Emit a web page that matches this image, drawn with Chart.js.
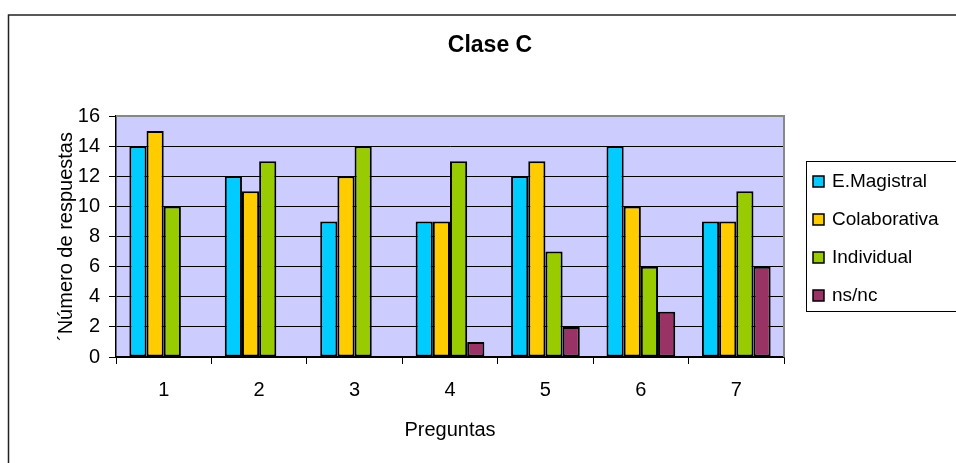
<!DOCTYPE html>
<html lang="es">
<head>
<meta charset="UTF-8">
<title>Clase C</title>
<script src="https://cdn.jsdelivr.net/npm/chart.js@4.4.1/dist/chart.umd.min.js"></script>
<style>
  html, body { margin: 0; padding: 0; background: #fff; }
  #chart { display: block; }
</style>
</head>
<body>
<canvas id="chart" width="956" height="463"></canvas>
<script>
// data
var titulo = 'Clase C';
var preguntas = ['1', '2', '3', '4', '5', '6', '7'];
var series = ['E.Magistral', 'Colaborativa', 'Individual', 'ns/nc'];
var magistral = [14, 12, 9, 9, 12, 14, 9];
var colaborativa = [15, 11, 12, 9, 13, 10, 9];
var individual = [10, 13, 14, 13, 7, 6, 11];
var nsnc = [0, 0, 0, 1, 2, 3, 6];
var colores = ['#00CCFF', '#FFCC00', '#99CC00', '#993366'];

var fuente = "'Liberation Sans', Arial, sans-serif";

// frame, title, plot border and legend box
var marcos = {
  id: 'marcos',
  beforeDraw: function (chart) {
    var ctx = chart.ctx;
    var a = chart.chartArea;
    ctx.save();
    ctx.fillStyle = '#CCCCFF';
    ctx.fillRect(a.left, a.top, a.right - a.left, a.bottom - a.top);
    ctx.strokeStyle = '#222';
    ctx.lineWidth = 1.5;
    ctx.strokeRect(8.5, 15, 1200, 1200);
    ctx.restore();
  },
  afterDraw: function (chart) {
    var ctx = chart.ctx;
    var a = chart.chartArea;
    ctx.save();
    ctx.strokeStyle = '#888';
    ctx.lineWidth = 2;
    ctx.beginPath();
    ctx.moveTo(a.left, a.top);
    ctx.lineTo(a.right, a.top);
    ctx.lineTo(a.right, a.bottom);
    ctx.stroke();

    // title
    ctx.fillStyle = '#000';
    ctx.font = 'bold 23px ' + fuente;
    ctx.textAlign = 'center';
    ctx.textBaseline = 'middle';
    ctx.fillText(titulo, 490, 46);

    // legend
    ctx.textAlign = 'left';
    ctx.strokeStyle = '#000';
    ctx.lineWidth = 1;
    ctx.strokeRect(806.5, 161.5, 200, 150);
    ctx.font = '19px ' + fuente;
    chart.data.datasets.forEach(function (ds, i) {
      var y = 181 + i * 38;
      ctx.fillStyle = ds.backgroundColor;
      ctx.fillRect(813, y - 5, 11, 11);
      ctx.strokeStyle = '#000';
      ctx.lineWidth = 1.5;
      ctx.strokeRect(813, y - 5, 11, 11);
      ctx.fillStyle = '#000';
      ctx.fillText(ds.label, 832, y + 1);
    });
    ctx.restore();
  }
};

function serie(i, valores) {
  return {
    label: series[i],
    data: valores,
    backgroundColor: colores[i],
    borderColor: '#000',
    borderWidth: function (c) { return c.raw === 0 ? 0 : 2; },
    borderSkipped: false,
    categoryPercentage: 0.72,
    barPercentage: 1.0
  };
}

var ctx = document.getElementById('chart').getContext('2d');
new Chart(ctx, {
  type: 'bar',
  data: {
    labels: preguntas,
    datasets: [
      serie(0, magistral),
      serie(1, colaborativa),
      serie(2, individual),
      serie(3, nsnc)
    ]
  },
  options: {
    responsive: false,
    animation: false,
    layout: { padding: { left: 9, right: 172, top: 116, bottom: 0 } },
    plugins: {
      legend: { display: false },
      tooltip: { enabled: false },
      title: { display: false }
    },
    scales: {
      x: {
        afterFit: function (s) { s.height = 106; },
        grid: {
          display: true,
          drawOnChartArea: false,
          drawTicks: true,
          tickLength: 7,
          color: '#000',
          offset: true
        },
        border: { display: true, color: '#000', width: 1.5 },
        ticks: { color: '#000', font: { family: fuente, size: 20 }, padding: 14 },
        title: {
          display: true,
          text: 'Preguntas',
          color: '#000',
          font: { family: fuente, size: 20 },
          padding: { top: 0, bottom: 21 }
        }
      },
      y: {
        min: 0,
        max: 16,
        afterFit: function (s) { s.width = 107; },
        grid: {
          color: '#000',
          lineWidth: 1,
          drawTicks: true,
          tickLength: 7
        },
        border: { display: true, color: '#000', width: 1.5 },
        ticks: { stepSize: 2, color: '#000', font: { family: fuente, size: 20 }, padding: 9 },
        title: {
          display: true,
          text: '´Número de respuestas',
          color: '#000',
          font: { family: fuente, size: 20 },
          padding: { top: 45, bottom: 0 }
        }
      }
    }
  },
  plugins: [marcos]
});
</script>
</body>
</html>
